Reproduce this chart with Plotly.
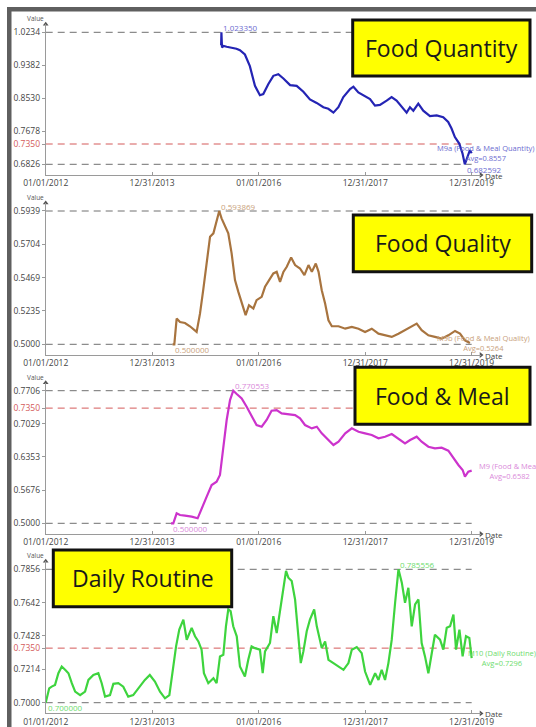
import plotly.graph_objects as go

W, H = 536, 727

# ---------------- data ----------------
x_tick_vals = ["2012-01-01", "2013-12-31", "2016-01-01", "2017-12-31", "2019-12-31"]
x_tick_text = ["01/01/2012", "12/31/2013", "01/01/2016", "12/31/2017", "12/31/2019"]
threshold = 0.735

qty_dates = ["2015-04-18", "2015-04-20", "2015-04-24", "2015-05-05", "2015-05-26", "2015-06-15",
             "2015-07-10", "2015-08-01", "2015-08-25", "2015-09-28", "2015-11-01", "2015-12-06",
             "2016-01-09", "2016-02-01", "2016-03-07", "2016-04-10", "2016-05-14", "2016-06-18",
             "2016-08-03", "2016-09-17", "2016-11-02", "2016-12-17", "2017-02-01", "2017-03-19",
             "2017-04-22", "2017-05-27", "2017-06-30", "2017-08-03", "2017-09-18", "2017-10-11",
             "2017-11-14", "2017-12-18", "2018-02-02", "2018-03-08", "2018-04-11", "2018-05-27",
             "2018-06-30", "2018-08-03", "2018-09-07", "2018-10-11", "2018-11-03", "2018-11-26",
             "2018-12-30", "2019-02-02", "2019-03-20", "2019-05-05", "2019-06-19", "2019-07-23",
             "2019-08-15", "2019-09-07", "2019-10-07", "2019-10-29", "2019-11-14", "2019-12-01",
             "2019-12-19", "2019-12-31"]
qty_values = [0.990, 1.023350, 0.984, 0.988, 0.986, 0.985,
              0.983, 0.981, 0.977, 0.966, 0.936, 0.885,
              0.861, 0.864, 0.890, 0.911, 0.915, 0.904,
              0.887, 0.885, 0.870, 0.850, 0.841, 0.830,
              0.826, 0.816, 0.830, 0.856, 0.877, 0.883,
              0.868, 0.860, 0.851, 0.834, 0.836, 0.847,
              0.856, 0.847, 0.830, 0.816, 0.830, 0.821,
              0.839, 0.821, 0.807, 0.809, 0.804, 0.792,
              0.775, 0.753, 0.736, 0.711, 0.682592, 0.702,
              0.719, 0.711]
qty_ticks = [0.6826, 0.7678, 0.8530, 0.9382, 1.0234]

qual_dates = ["2014-05-20", "2014-06-01", "2014-06-17", "2014-07-10", "2014-08-13", "2014-09-16",
              "2014-11-01", "2014-11-24", "2014-12-16", "2015-01-09", "2015-02-01", "2015-02-24",
              "2015-03-18", "2015-04-05", "2015-04-21", "2015-05-14", "2015-06-06", "2015-06-29",
              "2015-07-22", "2015-08-14", "2015-09-10", "2015-10-03", "2015-10-26", "2015-11-25",
              "2015-12-17", "2016-01-21", "2016-02-13", "2016-03-11", "2016-04-10", "2016-05-03",
              "2016-05-26", "2016-06-18", "2016-07-11", "2016-08-10", "2016-09-06", "2016-10-10",
              "2016-11-09", "2016-12-07", "2016-12-30", "2017-01-26", "2017-02-14", "2017-03-08",
              "2017-03-31", "2017-04-23", "2017-05-16", "2017-07-01", "2017-08-16", "2017-09-30",
              "2017-11-15", "2017-12-30", "2018-02-14", "2018-04-01", "2018-05-16", "2018-07-01",
              "2018-08-16", "2018-09-30", "2018-11-15", "2018-12-19", "2019-01-22", "2019-03-09",
              "2019-04-23", "2019-06-08", "2019-07-24", "2019-09-08", "2019-10-12", "2019-11-15",
              "2019-12-19"]
qual_values = [0.500000, 0.5000, 0.5181, 0.5157, 0.5150, 0.5127,
               0.5087, 0.5216, 0.5381, 0.5569, 0.5758, 0.5781,
               0.5875, 0.593869, 0.5887, 0.5828, 0.5781, 0.5640,
               0.5452, 0.5369, 0.5287, 0.5205, 0.5275, 0.5252,
               0.5311, 0.5334, 0.5405, 0.5452, 0.5499, 0.5510,
               0.5440, 0.5510, 0.5546, 0.5612, 0.5558, 0.5534,
               0.5487, 0.5558, 0.5510, 0.5569, 0.5510, 0.5381,
               0.5287, 0.5169, 0.5127, 0.5127, 0.5110, 0.5122,
               0.5110, 0.5087, 0.5110, 0.5075, 0.5063, 0.5052,
               0.5075, 0.5099, 0.5122, 0.5146, 0.5099, 0.5063,
               0.5052, 0.5040, 0.5063, 0.5094, 0.5075, 0.5028,
               0.5009]
qual_ticks = [0.5000, 0.5235, 0.5469, 0.5704, 0.5939]

meal_dates = ["2014-05-09", "2014-05-25", "2014-06-17", "2014-07-10", "2014-08-13", "2014-09-28",
              "2014-11-08", "2014-12-05", "2015-01-09", "2015-02-12", "2015-03-18", "2015-04-10",
              "2015-05-03", "2015-05-26", "2015-06-18", "2015-07-10", "2015-08-03", "2015-09-06",
              "2015-10-10", "2015-11-13", "2015-12-17", "2016-01-21", "2016-02-24", "2016-03-29",
              "2016-05-03", "2016-06-06", "2016-07-22", "2016-09-06", "2016-10-10", "2016-11-13",
              "2016-12-30", "2017-02-02", "2017-03-08", "2017-04-23", "2017-05-27", "2017-07-01",
              "2017-08-16", "2017-09-30", "2017-11-15", "2017-12-30", "2018-02-14", "2018-04-01",
              "2018-05-16", "2018-07-01", "2018-08-16", "2018-09-30", "2018-11-04", "2018-12-19",
              "2019-01-22", "2019-03-09", "2019-04-23", "2019-06-08", "2019-07-24", "2019-08-28",
              "2019-10-01", "2019-10-30", "2019-11-15", "2019-12-08", "2019-12-31"]
meal_values = [0.500000, 0.5000, 0.5204, 0.5170, 0.5156, 0.5136,
               0.5102, 0.5306, 0.5544, 0.5782, 0.5850, 0.5986,
               0.6563, 0.7107, 0.7515, 0.770553, 0.7638, 0.7549,
               0.7379, 0.7175, 0.7005, 0.6971, 0.7107, 0.7298,
               0.7311, 0.7243, 0.7230, 0.7209, 0.7141, 0.7005,
               0.6937, 0.6971, 0.6835, 0.6699, 0.6597, 0.6665,
               0.6835, 0.6937, 0.6869, 0.6835, 0.6801, 0.6733,
               0.6767, 0.6822, 0.6733, 0.6631, 0.6699, 0.6767,
               0.6665, 0.6563, 0.6529, 0.6543, 0.6482, 0.6326,
               0.6190, 0.6088, 0.5952, 0.6054, 0.6074]
meal_ticks = [0.5000, 0.5676, 0.6353, 0.7029, 0.7706]

routine_dates = ["2012-01-01", "2012-01-25", "2012-02-11", "2012-03-05", "2012-03-28", "2012-04-20",
                 "2012-05-13", "2012-06-05", "2012-06-28", "2012-07-21", "2012-08-24", "2012-09-27",
                 "2012-10-20", "2012-11-23", "2012-12-27", "2013-01-19", "2013-02-11", "2013-03-17",
                 "2013-04-09", "2013-05-13", "2013-06-16", "2013-07-20", "2013-08-23", "2013-10-08",
                 "2013-11-11", "2013-12-15", "2014-01-19", "2014-02-23", "2014-03-29", "2014-04-28",
                 "2014-05-21", "2014-06-13", "2014-07-05", "2014-08-02", "2014-08-25", "2014-09-28",
                 "2014-10-21", "2014-11-13", "2014-12-05", "2014-12-21", "2015-01-20", "2015-02-24",
                 "2015-03-18", "2015-04-10", "2015-05-03", "2015-05-21", "2015-06-06", "2015-06-22",
                 "2015-07-10", "2015-08-03", "2015-08-25", "2015-09-28", "2015-10-21", "2015-11-13",
                 "2015-12-06", "2016-01-09", "2016-01-28", "2016-02-13", "2016-03-18", "2016-04-10",
                 "2016-05-03", "2016-05-26", "2016-06-18", "2016-07-06", "2016-07-22", "2016-08-14",
                 "2016-09-06", "2016-09-28", "2016-10-15", "2016-11-02", "2016-11-25", "2016-12-17",
                 "2017-01-15", "2017-02-02", "2017-03-08", "2017-03-31", "2017-04-23", "2017-05-27",
                 "2017-07-01", "2017-08-04", "2017-09-07", "2017-09-30", "2017-11-03", "2017-12-07",
                 "2017-12-30", "2018-02-03", "2018-03-09", "2018-04-01", "2018-04-23", "2018-05-16",
                 "2018-06-08", "2018-07-01", "2018-07-24", "2018-08-16", "2018-09-08", "2018-09-30",
                 "2018-10-23", "2018-11-15", "2018-12-08", "2018-12-31", "2019-01-22", "2019-02-14",
                 "2019-03-09", "2019-04-01", "2019-04-23", "2019-05-28", "2019-06-20", "2019-07-13",
                 "2019-08-05", "2019-08-28", "2019-09-15", "2019-10-08", "2019-10-30", "2019-11-22",
                 "2019-12-15", "2019-12-31"]
routine_values = [0.700000, 0.7092, 0.7103, 0.7114, 0.7189, 0.7232,
                  0.7211, 0.7189, 0.7125, 0.7071, 0.7049, 0.7071,
                  0.7146, 0.7178, 0.7189, 0.7125, 0.7039, 0.7049,
                  0.7121, 0.7125, 0.7103, 0.7039, 0.7049, 0.7103,
                  0.7146, 0.7178, 0.7136, 0.7071, 0.7028, 0.7049,
                  0.7211, 0.7361, 0.7469, 0.7533, 0.7404, 0.7480,
                  0.7426, 0.7393, 0.7340, 0.7189, 0.7125, 0.7157,
                  0.7125, 0.7297, 0.7307, 0.7490, 0.7598, 0.7587,
                  0.7490, 0.7426, 0.7232, 0.7168, 0.7275, 0.7361,
                  0.7350, 0.7340, 0.7189, 0.7329, 0.7383, 0.7555,
                  0.7447, 0.7598, 0.7748, 0.7845, 0.7802, 0.7780,
                  0.7662, 0.7426, 0.7254, 0.7329, 0.7458, 0.7533,
                  0.7598, 0.7490, 0.7350, 0.7393, 0.7275, 0.7254,
                  0.7232, 0.7211, 0.7254, 0.7340, 0.7357, 0.7318,
                  0.7200, 0.7114, 0.7189, 0.7146, 0.7211, 0.7146,
                  0.7254, 0.7404, 0.7641, 0.785556, 0.7770, 0.7641,
                  0.7737, 0.7490, 0.7630, 0.7662, 0.7383, 0.7297,
                  0.7189, 0.7318, 0.7436, 0.7404, 0.7340, 0.7480,
                  0.7490, 0.7565, 0.7340, 0.7469, 0.7297, 0.7426,
                  0.7415, 0.7286]
routine_ticks = [0.7000, 0.7214, 0.7428, 0.7642, 0.7856]

series_names = ["M9a (Food & Meal Quantity)", "M9b (Food & Meal Quality)",
                "M9 (Food & Meal)", "M10 (Daily Routine)"]
series_avgs = ["0.8557", "0.5264", "0.6582", "0.7296"]
titles = ["Food Quantity", "Food Quality", "Food & Meal", "Daily Routine"]

# ---------------- styling / layout ----------------
line_colors = ["#2424b4", "#a8743f", "#cc33cc", "#3ed43e"]
label_colors = ["#6c6cd0", "#c9a27c", "#da8ada", "#6edc6e"]
panel_tick_px = [(32.3, 164.3), (211.0, 344.3), (390.7, 523.3), (569.3, 702.7)]
title_boxes = [(352.7, 20, 530, 76), (353.3, 215, 531.7, 271.7),
               (355, 367.3, 530, 424.3), (53.3, 550, 231.7, 606.7)]
label_xshift = [14, 14, 38, 30]

data = [(qty_dates, qty_values, qty_ticks), (qual_dates, qual_values, qual_ticks),
        (meal_dates, meal_values, meal_ticks), (routine_dates, routine_values, routine_ticks)]

x_start = "2012-01-01"
x_range_end = "2020-03-04"
line_end = "2019-12-31"
plot_left, plot_right = 45.7, 481.0
FONT = "Open Sans"
AXIS_COL = "#9a9a9a"
TICK_COL = "#444444"
RED = "#d45a5a"

fig = go.Figure()
shapes = []
annotations = []
layout = {}

for i, (dates, vals, ticks) in enumerate(data):
    n = i + 1
    xa = "x" if n == 1 else f"x{n}"
    ya = "y" if n == 1 else f"y{n}"
    top_px, bot_px = panel_tick_px[i]
    vmax, vmin = max(vals), min(vals)
    scale = (bot_px - top_px) / (vmax - vmin)
    r0 = vmin - 10.7 / scale
    r1 = vmax + 8.0 / scale
    d0 = 1 - (bot_px + 10.7) / H
    d1 = 1 - (top_px - 8.0) / H

    fig.add_trace(go.Scatter(x=dates, y=vals, mode="lines", xaxis=xa, yaxis=ya,
                             line=dict(color=line_colors[i], width=2.2), showlegend=False,
                             hoverinfo="skip"))
    # axis arrowheads
    fig.add_trace(go.Scatter(x=[x_start], y=[r1], mode="markers", xaxis=xa, yaxis=ya,
                             marker=dict(symbol="triangle-up", size=5, color="#555"),
                             cliponaxis=False, showlegend=False, hoverinfo="skip"))
    fig.add_trace(go.Scatter(x=[x_range_end], y=[r0], mode="markers", xaxis=xa, yaxis=ya,
                             marker=dict(symbol="triangle-right", size=5, color="#555"),
                             cliponaxis=False, showlegend=False, hoverinfo="skip"))

    tv = list(ticks)
    tt = [f"{t:.4f}" for t in ticks]
    if r0 < threshold < r1:
        tv.append(threshold)
        tt.append(f"<span style='color:{RED}'>{threshold:.4f}</span>")

    layout["xaxis" if n == 1 else f"xaxis{n}"] = dict(
        domain=[plot_left / W, plot_right / W], range=[x_start, x_range_end], anchor=ya,
        type="date", tickvals=x_tick_vals, ticktext=x_tick_text, showline=True,
        linecolor=AXIS_COL, linewidth=1, ticks="inside", ticklen=3, tickcolor=AXIS_COL,
        tickfont=dict(family=FONT, size=8.5, color=TICK_COL), showgrid=False, zeroline=False,
        automargin=False)
    layout["yaxis" if n == 1 else f"yaxis{n}"] = dict(
        domain=[d0, d1], range=[r0, r1], anchor=xa, tickvals=tv, ticktext=tt,
        showline=True, linecolor=AXIS_COL, linewidth=1, ticks="outside", ticklen=3,
        tickcolor=AXIS_COL, tickfont=dict(family=FONT, size=8.5, color=TICK_COL),
        showgrid=False, zeroline=False, automargin=False)

    # reference lines
    for yv, col in [(vmax, "#707070"), (vmin, "#707070")]:
        shapes.append(dict(type="line", xref=xa, yref=ya, x0=x_start, x1=line_end, y0=yv, y1=yv,
                           line=dict(color=col, width=1, dash="7px,5px"), layer="below"))
    if r0 < threshold < r1:
        shapes.append(dict(type="line", xref=xa, yref=ya, x0=x_start, x1=line_end,
                           y0=threshold, y1=threshold,
                           line=dict(color=RED, width=1, dash="7px,5px"), layer="below"))

    imax = vals.index(vmax)
    imin = vals.index(vmin)
    annotations.append(dict(xref=xa, yref=ya, x=dates[imax], y=vmax, text=f"{vmax:.6f}",
                            showarrow=False, xanchor="left", yanchor="middle", yshift=5,
                            font=dict(family=FONT, size=8, color=label_colors[i])))
    annotations.append(dict(xref=xa, yref=ya, x=dates[imin], y=vmin, text=f"{vmin:.6f}",
                            showarrow=False, xanchor="left", yanchor="middle", yshift=-5,
                            font=dict(family=FONT, size=8, color=label_colors[i])))
    annotations.append(dict(xref=xa, yref=ya, x=dates[-1], y=vals[-1],
                            text=f"{series_names[i]}<br>Avg={series_avgs[i]}",
                            showarrow=False, xanchor="center", yanchor="middle",
                            xshift=label_xshift[i], align="center",
                            font=dict(family=FONT, size=7.5, color=label_colors[i])))
    annotations.append(dict(xref="paper", yref="paper", x=plot_left / W, y=d1, text="Value",
                            showarrow=False, xanchor="right", yanchor="bottom", yshift=-1,
                            font=dict(family=FONT, size=6.5, color="#555")))
    annotations.append(dict(xref="paper", yref="paper", x=(plot_right + 2) / W, y=d0,
                            text="Date", showarrow=False, xanchor="left", yanchor="middle",
                            font=dict(family=FONT, size=8, color="#444")))

    # title boxes
    bx0, by0, bx1, by1 = title_boxes[i]
    shapes.append(dict(type="rect", xref="paper", yref="paper", x0=bx0 / W, x1=bx1 / W,
                       y0=1 - by1 / H, y1=1 - by0 / H, fillcolor="#ffff00",
                       line=dict(color="#111111", width=3), layer="above"))
    annotations.append(dict(xref="paper", yref="paper", x=(bx0 + bx1) / 2 / W,
                            y=1 - (by0 + by1) / 2 / H, text=titles[i], showarrow=False,
                            xanchor="center", yanchor="middle",
                            font=dict(family=FONT, size=23, color="#1a1a1a", weight=500)))

# frame (gray border at top and left)
shapes.append(dict(type="rect", xref="paper", yref="paper", x0=7 / W, x1=11.5 / W,
                   y0=0, y1=1 - 7 / H, fillcolor="#5f5f5f", line=dict(width=0)))
shapes.append(dict(type="rect", xref="paper", yref="paper", x0=7 / W, x1=1,
                   y0=1 - 11.5 / H, y1=1 - 7 / H, fillcolor="#5f5f5f", line=dict(width=0)))

fig.update_layout(width=W, height=H, margin=dict(l=0, r=0, t=0, b=0, autoexpand=False),
                  paper_bgcolor="white", plot_bgcolor="white", showlegend=False,
                  shapes=shapes, annotations=annotations, **layout)

fig.write_html("out.html", config={"displayModeBar": False},
               post_script="document.body.style.margin='0px';"
                           "document.body.style.overflow='hidden';")
